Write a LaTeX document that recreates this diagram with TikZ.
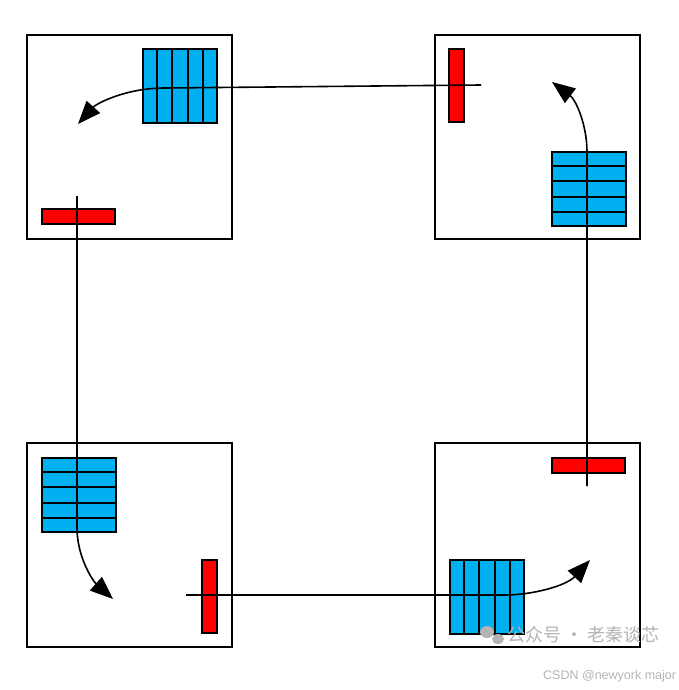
\documentclass[tikz,border=0pt]{standalone}
\usepackage{fontspec}
\setsansfont{Liberation Sans}
\newfontfamily\cjk{Noto Sans CJK SC}
\usetikzlibrary{arrows.meta,calc}
\definecolor{cellblue}{HTML}{00B0F0}
\definecolor{barred}{HTML}{FF0000}
\definecolor{wm}{HTML}{B4B4B4}
\tikzset{
  frame/.style={draw=black, line width=2.3pt, fill=white, minimum width=205pt, minimum height=204pt, anchor=north west, inner sep=0pt},
  grid/.style={draw=black, line width=2pt, fill=cellblue, minimum width=74pt, minimum height=74pt, anchor=north west, inner sep=0pt},
  hbar/.style={draw=black, line width=1.7pt, fill=barred, minimum width=73pt, minimum height=15pt, anchor=north west, inner sep=0pt},
  vbar/.style={draw=black, line width=1.7pt, fill=barred, minimum width=15pt, minimum height=73pt, anchor=north west, inner sep=0pt},
  conn/.style={draw=black, line width=1.6pt},
  arr/.style={conn, -{Triangle[length=23pt,width=18pt]}},
}
\newcommand{\colsgrid}[1]{\foreach \i in {1,...,4}{\draw[line width=2pt] ($(#1.north west)!\i/5!(#1.north east)$) -- ($(#1.south west)!\i/5!(#1.south east)$);}}
\newcommand{\rowsgrid}[1]{\foreach \i in {1,...,4}{\draw[line width=2pt] ($(#1.north west)!\i/5!(#1.south west)$) -- ($(#1.north east)!\i/5!(#1.south east)$);}}
\begin{document}
\begin{tikzpicture}[x=1pt,y=-1pt]
\useasboundingbox[fill=white] (0,0) rectangle (678,690);
% frames
\node[frame] (tl) at (26,34) {};
\node[frame] (tr) at (434,34) {};
\node[frame] (bl) at (26,442) {};
\node[frame] (br) at (434,442) {};
% blue grids
\node[grid] (gtl) at (142,48) {}; \colsgrid{gtl}
\node[grid] (gtr) at (551,151) {}; \rowsgrid{gtr}
\node[grid] (gbl) at (41,457) {}; \rowsgrid{gbl}
\node[grid] (gbr) at (449,559) {}; \colsgrid{gbr}
% red bars
\node[hbar] (rtl) at (41,208) {};
\node[vbar] (rtr) at (448,48) {};
\node[vbar] (rbl) at (201,559) {};
\node[hbar] (rbr) at (551,457) {};
% connector end points
\coordinate (s1) at (481,85);
\coordinate (e1) at (78,124);
\coordinate (s2) at (77,196);
\coordinate (e2) at (113,599);
\coordinate (s3) at (186,595);
\coordinate (e3) at (590,560);
\coordinate (s4) at (587,486);
\coordinate (e4) at (552,82);
% connectors
\draw[arr] (s1) -- (165,88) .. controls (125,88) and (96,104) .. (e1);
\draw[arr] (s2) -- (77,530) .. controls (78,560) and (94,582) .. (e2);
\draw[arr] (s3) -- (505,595) .. controls (532,595) and (566,586) .. (e3);
\draw[arr] (s4) -- (587,152) .. controls (587,125) and (576,100) .. (e4);
% watermarks
\fill[wm] (487,632) ellipse (7pt and 6pt);
\fill[wm] (498,639) ellipse (6pt and 5pt);
\node[text=wm, anchor=west, inner sep=0pt, font=\cjk\fontsize{18pt}{18pt}\selectfont] (w1) at (507,635) {公众号 · 老秦谈芯};
\node[text=wm, anchor=west, inner sep=0pt, font=\sffamily\fontsize{12.5pt}{12.5pt}\selectfont] (w2) at (543,676) {CSDN @newyork major};
\end{tikzpicture}
\end{document}
